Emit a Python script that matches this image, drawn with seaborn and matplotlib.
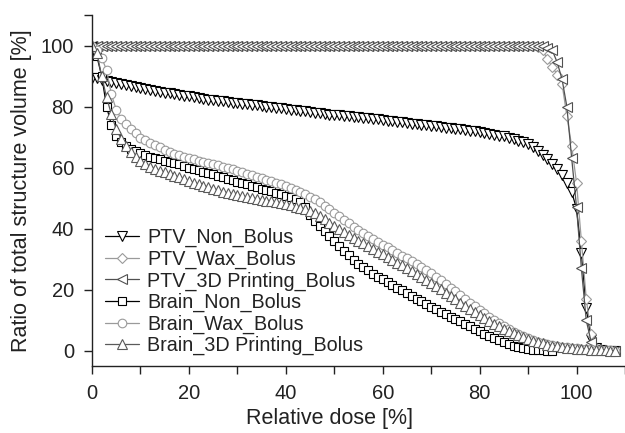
import numpy as np
import pandas as pd
import matplotlib
matplotlib.use("Agg")
import matplotlib.pyplot as plt
import seaborn as sns

# ---------------- data ----------------
dose = list(range(0, 109))  # relative dose [%], grid of the DVH samples

ptv_non_bolus = [
    89.5, 89.2, 88.8, 88.4, 88.0, 87.6, 87.3, 87.0, 86.7, 86.4,
    86.1, 85.8, 85.5, 85.2, 84.8, 84.6, 84.3, 84.0, 83.8, 83.5,
    83.3, 83.0, 82.8, 82.6, 82.3, 82.1, 81.9, 81.7, 81.5, 81.3,
    81.1, 80.9, 80.7, 80.6, 80.4, 80.2, 80.0, 79.8, 79.6, 79.4,
    79.2, 79.0, 78.8, 78.6, 78.4, 78.2, 78.0, 77.8, 77.6, 77.4,
    77.3, 77.1, 77.0, 76.9, 76.7, 76.6, 76.4, 76.2, 76.0, 75.8,
    75.6, 75.4, 75.2, 75.0, 74.8, 74.6, 74.4, 74.2, 74.0, 73.8,
    73.7, 73.5, 73.3, 73.1, 72.9, 72.7, 72.5, 72.3, 72.1, 71.9,
    71.6, 71.3, 71.0, 70.7, 70.5, 70.2, 69.8, 69.3, 68.8, 68.3,
    67.6, 66.6, 65.5, 64.2, 62.8, 61.2, 59.5, 57.5, 55.0, 52.0,
    46.5, 32.0, 14.0, 4.0, 0.8, 0.2, 0.0, 0.0, 0.0,
]

ptv_wax_bolus = [
    100.0, 100.0, 100.0, 100.0, 100.0, 100.0, 100.0, 100.0, 100.0, 100.0,
    100.0, 100.0, 100.0, 100.0, 100.0, 100.0, 100.0, 100.0, 100.0, 100.0,
    100.0, 100.0, 100.0, 100.0, 100.0, 100.0, 100.0, 100.0, 100.0, 100.0,
    100.0, 100.0, 100.0, 100.0, 100.0, 100.0, 100.0, 100.0, 100.0, 100.0,
    100.0, 100.0, 100.0, 100.0, 100.0, 100.0, 100.0, 100.0, 100.0, 100.0,
    100.0, 100.0, 100.0, 100.0, 100.0, 100.0, 100.0, 100.0, 100.0, 100.0,
    100.0, 100.0, 100.0, 100.0, 100.0, 100.0, 100.0, 100.0, 100.0, 100.0,
    100.0, 100.0, 100.0, 100.0, 100.0, 100.0, 100.0, 100.0, 100.0, 100.0,
    100.0, 100.0, 100.0, 100.0, 100.0, 100.0, 100.0, 100.0, 100.0, 100.0,
    100.0, 99.8, 99.5, 98.5, 95.5, 93.0, 90.5, 87.5, 77.0, 67.0,
    55.0, 36.0, 17.0, 5.5, 1.0, 0.2, 0.0, 0.0, 0.0,
]

ptv_3d_bolus = [
    100.0, 100.0, 100.0, 100.0, 100.0, 100.0, 100.0, 100.0, 100.0, 100.0,
    100.0, 100.0, 100.0, 100.0, 100.0, 100.0, 100.0, 100.0, 100.0, 100.0,
    100.0, 100.0, 100.0, 100.0, 100.0, 100.0, 100.0, 100.0, 100.0, 100.0,
    100.0, 100.0, 100.0, 100.0, 100.0, 100.0, 100.0, 100.0, 100.0, 100.0,
    100.0, 100.0, 100.0, 100.0, 100.0, 100.0, 100.0, 100.0, 100.0, 100.0,
    100.0, 100.0, 100.0, 100.0, 100.0, 100.0, 100.0, 100.0, 100.0, 100.0,
    100.0, 100.0, 100.0, 100.0, 100.0, 100.0, 100.0, 100.0, 100.0, 100.0,
    100.0, 100.0, 100.0, 100.0, 100.0, 100.0, 100.0, 100.0, 100.0, 100.0,
    100.0, 100.0, 100.0, 100.0, 100.0, 100.0, 100.0, 100.0, 100.0, 100.0,
    100.0, 100.0, 100.0, 99.8, 99.3, 98.4, 94.5, 89.0, 80.0, 63.0,
    47.0, 27.0, 10.0, 3.0, 0.5, 0.1, 0.0, 0.0, 0.0,
]

brain_non_bolus = [
    100.0, 96.5, 90.0, 80.0, 74.0, 70.5, 68.5, 67.2, 66.2, 65.4,
    64.7, 64.1, 63.6, 63.1, 62.7, 62.3, 61.9, 61.5, 61.1, 60.6,
    60.0, 59.6, 59.2, 58.7, 58.2, 57.8, 57.3, 56.8, 56.3, 55.9,
    55.4, 55.0, 54.5, 54.0, 53.6, 53.1, 52.7, 52.2, 51.8, 51.3,
    50.8, 50.3, 49.7, 48.8, 47.0, 44.5, 42.5, 40.8, 39.2, 37.6,
    36.0, 34.4, 32.8, 31.3, 29.8, 28.4, 27.3, 26.3, 25.3, 24.3,
    23.4, 22.5, 21.6, 20.7, 19.8, 18.9, 18.0, 17.1, 16.2, 15.3,
    14.4, 13.6, 12.8, 12.0, 11.2, 10.4, 9.6, 8.8, 8.0, 7.2,
    6.4, 5.6, 4.8, 4.1, 3.4, 2.8, 2.2, 1.7, 1.2, 0.8,
    0.5, 0.3, 0.2, 0.1, 0.0, 0.0, None, None, None, None,
    None, None, None, None, None, None, None, None, None,
]

brain_wax_bolus = [
    100.0, 98.5, 96.0, 92.0, 84.0, 79.0, 76.0, 74.3, 72.7, 71.2,
    69.8, 68.9, 68.0, 67.3, 66.6, 65.9, 65.2, 64.6, 64.1, 63.6,
    63.1, 62.7, 62.3, 61.9, 61.5, 61.1, 60.7, 60.3, 59.8, 59.4,
    58.9, 58.4, 57.9, 57.5, 57.0, 56.5, 56.0, 55.5, 55.0, 54.5,
    54.0, 53.2, 52.6, 52.0, 51.3, 50.5, 49.6, 48.6, 47.5, 46.3,
    45.1, 44.0, 42.9, 41.8, 40.7, 39.6, 38.6, 37.6, 36.6, 35.7,
    34.8, 33.9, 33.0, 32.1, 31.2, 30.3, 29.4, 28.5, 27.5, 26.5,
    25.5, 24.3, 23.1, 21.9, 20.7, 19.5, 18.2, 17.0, 15.8, 14.6,
    13.4, 12.3, 11.2, 10.1, 9.1, 8.1, 7.2, 6.3, 5.5, 4.8,
    4.1, 3.5, 3.0, 2.5, 2.1, 1.8, 1.5, 1.3, 1.1, 0.9,
    0.8, 0.7, 0.6, 0.5, 0.4, 0.3, 0.2, 0.1, 0.0,
]

brain_3d_bolus = [
    100.0, 97.5, 90.0, 83.0, 77.5, 72.5, 69.5, 67.0, 65.0, 63.5,
    62.3, 61.2, 60.3, 59.6, 59.0, 58.5, 57.9, 57.3, 56.8, 56.3,
    55.6, 55.1, 54.6, 54.1, 53.6, 53.1, 52.6, 52.1, 51.7, 51.4,
    51.0, 50.7, 50.4, 50.1, 49.8, 49.5, 49.2, 48.9, 48.6, 48.3,
    48.0, 47.6, 47.2, 46.8, 46.4, 45.8, 45.0, 44.1, 43.1, 42.0,
    40.9, 39.8, 38.8, 37.9, 37.0, 36.1, 35.2, 34.3, 33.4, 32.5,
    31.6, 30.7, 29.8, 28.9, 28.0, 27.1, 26.2, 25.3, 24.3, 23.3,
    22.3, 21.2, 20.1, 19.0, 17.9, 16.8, 15.7, 14.7, 13.7, 12.7,
    11.7, 10.7, 9.8, 8.9, 8.0, 7.2, 6.4, 5.7, 5.0, 4.4,
    3.8, 3.3, 2.8, 2.4, 2.0, 1.7, 1.4, 1.2, 1.0, 0.8,
    0.7, 0.6, 0.5, 0.4, 0.3, 0.2, 0.1, 0.0, 0.0,
]

series_names = ["PTV_Non_Bolus", "PTV_Wax_Bolus", "PTV_3D Printing_Bolus",
                "Brain_Non_Bolus", "Brain_Wax_Bolus", "Brain_3D Printing_Bolus"]
series_values = [ptv_non_bolus, ptv_wax_bolus, ptv_3d_bolus,
                 brain_non_bolus, brain_wax_bolus, brain_3d_bolus]

x_ticks = [0, 20, 40, 60, 80, 100]
y_ticks = [0, 20, 40, 60, 80, 100]

# ---------------- styles ----------------
colors = {"PTV_Non_Bolus": "#000000", "PTV_Wax_Bolus": "#9a9a9a",
          "PTV_3D Printing_Bolus": "#505050", "Brain_Non_Bolus": "#000000",
          "Brain_Wax_Bolus": "#9a9a9a", "Brain_3D Printing_Bolus": "#5a5a5a"}
markers = {"PTV_Non_Bolus": "v", "PTV_Wax_Bolus": "D",
           "PTV_3D Printing_Bolus": "<", "Brain_Non_Bolus": "s",
           "Brain_Wax_Bolus": "o", "Brain_3D Printing_Bolus": "^"}
msizes = {"v": 6.8, "D": 5.2, "<": 6.8, "s": 5.6, "o": 6.2, "^": 6.8}

sns.set_style("ticks")
plt.rcParams["font.family"] = ["Liberation Sans", "DejaVu Sans"]
text_color = "#222222"

frames = []
for name, vals in zip(series_names, series_values):
    frames.append(pd.DataFrame({"dose": dose,
                                "volume": pd.to_numeric(pd.Series(vals), errors="coerce"),
                                "series": name}))
df = pd.concat(frames, ignore_index=True).dropna()

fig = plt.figure(figsize=(6.25, 4.33), dpi=100)
ax = fig.add_axes([92 / 625, 67 / 433, 533 / 625, 351 / 433])

for name in series_names:
    sub = df[df["series"] == name]
    m = markers[name]
    sns.lineplot(data=sub, x="dose", y="volume", ax=ax, color=colors[name],
                 marker=m, markersize=msizes[m], markerfacecolor="white",
                 markeredgecolor=colors[name], markeredgewidth=0.8,
                 linewidth=0.9, label=name, estimator=None, sort=False)

ax.set_xlim(0, 110)
ax.set_ylim(-5, 110)
ax.set_xticks(x_ticks)
ax.set_xticks([10, 30, 50, 70, 90, 110], minor=True)
ax.set_yticks(y_ticks)
ax.set_yticks([110], minor=True)
ax.tick_params(axis="both", which="both", direction="out", length=6,
               width=1.0, color="#222222", labelsize=14.5, labelcolor=text_color,
               pad=7)
ax.set_xlabel("Relative dose [%]", fontsize=15.5, color=text_color, labelpad=4)
ax.xaxis.set_label_coords(0.445, -0.12)
ax.set_ylabel("Ratio of total structure volume [%]", fontsize=15.5,
              color=text_color, labelpad=6)
for side in ["top", "right"]:
    ax.spines[side].set_visible(False)
for side in ["left", "bottom"]:
    ax.spines[side].set_color("#222222")
    ax.spines[side].set_linewidth(1.0)

leg = ax.legend(loc="lower left", bbox_to_anchor=(0.024, 0.03), frameon=False,
                fontsize=14.2, handlelength=1.75, handletextpad=0.4,
                labelspacing=0.12, borderpad=0, borderaxespad=0)
for t in leg.get_texts():
    t.set_color(text_color)

fig.savefig("out.png", dpi=100)
